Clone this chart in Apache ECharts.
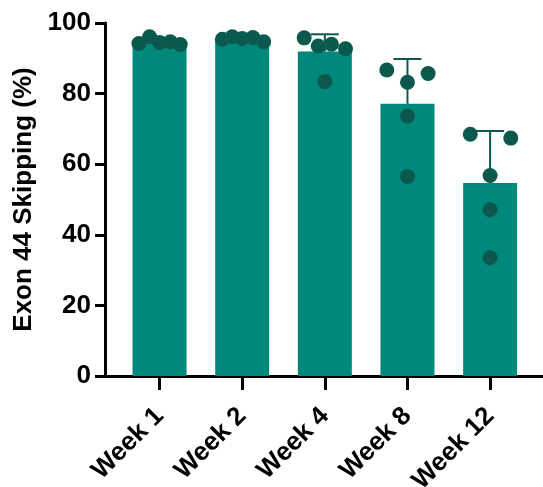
<!DOCTYPE html>
<html>
<head>
<meta charset="utf-8">
<script src="https://cdn.jsdelivr.net/npm/echarts@6/dist/echarts.min.js"></script>
<style>
  html, body { margin: 0; padding: 0; background: #fff; }
  #chart { width: 543px; height: 487px; }
</style>
</head>
<body>
<div id="chart"></div>
<script>
// Time points
const categories = ['Week 1', 'Week 2', 'Week 4', 'Week 8', 'Week 12'];
// Group means (%)
const meanValues = [94.7, 95.5, 91.9, 77.1, 54.7];
// Mean + SD (top of the error bar, %)
const upperValues = [95.5, 96.0, 96.8, 89.8, 69.4];
// Individual animals per time point (%)
const week1Values = [94.2, 96.1, 94.5, 94.7, 93.9];
const week2Values = [95.4, 96.1, 95.6, 95.9, 94.7];
const week4Values = [95.8, 93.5, 94.0, 92.7, 83.4];
const week8Values = [86.7, 85.7, 83.2, 73.6, 56.5];
const week12Values = [68.5, 67.4, 56.8, 47.1, 33.5];
// Horizontal spread of the dots within each bar (category units)
const week1Spread = [-0.25, -0.12, 0, 0.13, 0.25];
const week2Spread = [-0.24, -0.12, 0, 0.13, 0.26];
const week4Spread = [-0.25, -0.08, 0.08, 0.25, 0];
const week8Spread = [-0.25, 0.25, 0, 0, 0];
const week12Spread = [-0.24, 0.25, 0, 0, 0];

const groups = [week1Values, week2Values, week4Values, week8Values, week12Values];
const spreads = [week1Spread, week2Spread, week4Spread, week8Spread, week12Spread];
const positions = categories.map((_, i) => i);

const barColor = '#00897b';
const dotColor = '#0b594e';
const font = '"Liberation Sans", Arial, sans-serif';

const pointData = [];
groups.forEach((vals, i) => {
  vals.forEach((v, j) => pointData.push([i + spreads[i][j], v]));
});

// Upward SD whisker with a flat cap, starting at the top of the bar
function renderErrorBar(params, api) {
  const i = params.dataIndex;
  const base = api.coord([positions[i], meanValues[i]]);
  const top = api.coord([positions[i], upperValues[i]]);
  const half = 14;
  const style = { stroke: dotColor, lineWidth: 2, fill: null };
  return {
    type: 'group',
    children: [
      { type: 'line', shape: { x1: base[0], y1: base[1], x2: top[0], y2: top[1] }, style: style },
      { type: 'line', shape: { x1: top[0] - half, y1: top[1], x2: top[0] + half, y2: top[1] }, style: style }
    ]
  };
}

const chart = echarts.init(document.getElementById('chart'), null, { renderer: 'canvas' });
chart.setOption({
  animation: false,
  grid: { left: 105, right: 0, top: 23, bottom: 111, containLabel: false, outerBoundsMode: 'none' },
  xAxis: {
    type: 'value',
    min: -0.66,
    max: 4.64,
    axisLine: { show: true, onZero: false, lineStyle: { color: '#000', width: 3 } },
    axisTick: { show: true, customValues: positions, length: 14, lineStyle: { color: '#000', width: 3 } },
    splitLine: { show: false },
    axisLabel: {
      customValues: positions,
      formatter: v => categories[Math.round(v)],
      rotate: 45,
      margin: 36,
      color: '#000',
      fontFamily: font,
      fontWeight: 'bold',
      fontSize: 26
    }
  },
  yAxis: {
    type: 'value',
    min: 0,
    max: 100,
    interval: 20,
    name: 'Exon 44 Skipping (%)',
    nameLocation: 'middle',
    nameGap: 67,
    nameTextStyle: { color: '#000', fontFamily: font, fontWeight: 'bold', fontSize: 26 },
    axisLine: { show: true, onZero: false, lineStyle: { color: '#000', width: 3 } },
    axisTick: { show: true, length: 10, lineStyle: { color: '#000', width: 3 } },
    splitLine: { show: false },
    axisLabel: {
      margin: 14,
      color: '#000',
      fontFamily: font,
      fontWeight: 'bold',
      fontSize: 26
    }
  },
  series: [
    {
      type: 'bar',
      data: meanValues.map((v, i) => [positions[i], v]),
      barWidth: 54,
      itemStyle: { color: barColor },
      z: 1
    },
    {
      type: 'custom',
      data: upperValues.map((v, i) => [positions[i], v]),
      renderItem: renderErrorBar,
      z: 2
    },
    {
      type: 'scatter',
      data: pointData,
      symbol: 'circle',
      symbolSize: 15,
      itemStyle: { color: dotColor, opacity: 1 },
      z: 3
    }
  ]
});
</script>
</body>
</html>
